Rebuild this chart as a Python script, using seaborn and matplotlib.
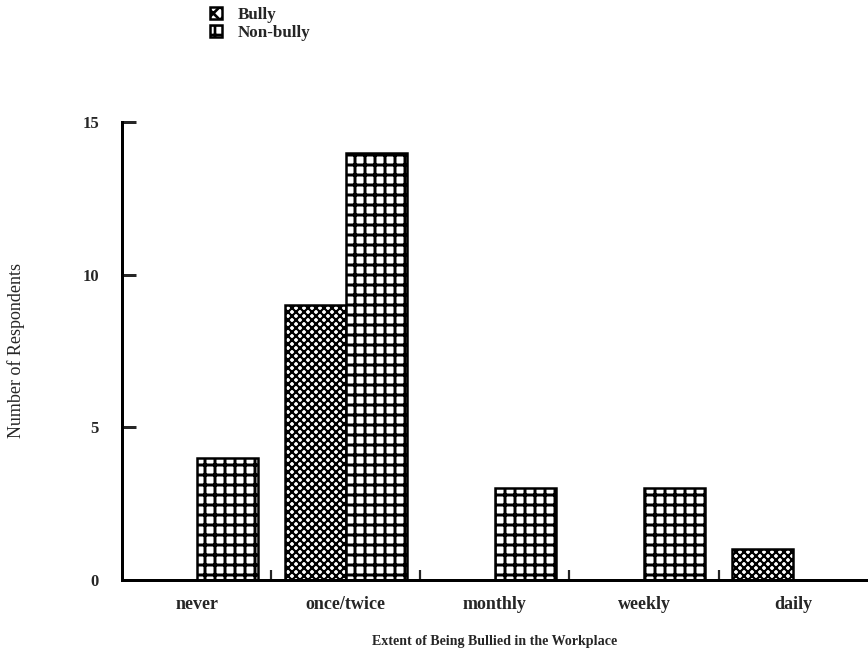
import pandas as pd
import matplotlib
matplotlib.use('Agg')
import matplotlib.pyplot as plt
import seaborn as sns
from matplotlib.patches import Patch

# data
categories = ['never', 'once/twice', 'monthly', 'weekly', 'daily']
bully = [0, 9, 0, 0, 1]
non_bully = [4, 14, 3, 3, 0]
groups = ['Bully', 'Non-bully']
hatches = ['xxxxx', '++']
hatch_widths = [1.3, 1.8]

df = pd.DataFrame({
    'extent': categories * 2,
    'group': [groups[0]] * len(categories) + [groups[1]] * len(categories),
    'count': bully + non_bully,
})

DPI = 120
def px(p):
    # pixels -> points at this dpi
    return p * 72 / DPI

sns.set_style('white')
plt.rcParams['font.family'] = ['Liberation Serif', 'DejaVu Serif']
plt.rcParams['hatch.linewidth'] = 1.6
plt.rcParams['hatch.color'] = 'black'

fig = plt.figure(figsize=(868 / DPI, 662 / DPI), dpi=DPI)
ax = fig.add_axes([0.1406, 0.1239, 0.859, 0.6918])

sns.barplot(data=df, x='extent', y='count', hue='group', order=categories,
            hue_order=groups, palette=['white', 'white'], edgecolor='black',
            linewidth=px(2.5), width=0.82, ax=ax, legend=False)

for cont, h, hw in zip(ax.containers, hatches, hatch_widths):
    for bar in cont:
        bar.set_hatch(h)
        if hasattr(bar, 'set_hatch_linewidth'):
            bar.set_hatch_linewidth(hw)
        if bar.get_height() == 0:
            bar.set_visible(False)

ax.set_xlim(-0.5, 4.5)
ax.set_ylim(0, 15)
ax.set_yticks([0, 5, 10, 15])
ax.set_yticklabels(['0', '5', '10', '15'], fontweight='bold', fontsize=px(16.5))
ax.set_xticks(range(len(categories)))
ax.set_xticklabels(categories, fontweight='bold', fontsize=px(18))
ax.set_xticks([0.5, 1.5, 2.5, 3.5], minor=True)
ax.tick_params(axis='x', which='major', length=0, pad=px(16))
ax.tick_params(axis='x', which='minor', direction='in', length=px(10),
               width=px(2.2), bottom=True)
ax.tick_params(axis='y', direction='in', length=px(14), width=px(3),
               pad=px(23), left=True)

for s in ['top', 'right']:
    ax.spines[s].set_visible(False)
for s in ['left', 'bottom']:
    ax.spines[s].set_linewidth(px(3))
    ax.spines[s].set_color('black')

ax.set_xlabel('Extent of Being Bullied in the Workplace', fontweight='bold',
              fontsize=px(14), labelpad=px(22))
ax.set_ylabel('Number of Respondents', fontsize=px(18), labelpad=px(57))

# legend squares drawn with the bar hatches
handles = [Patch(facecolor='white', edgecolor='black', hatch=h, linewidth=px(2.5))
           for h in ['xxx', '++']]
fig.legend(handles, groups, loc='upper left', bbox_to_anchor=(0.242, 0.99),
           frameon=False, prop={'weight': 'bold', 'size': px(17)},
           handlelength=0.7, handleheight=0.7, handletextpad=0.9,
           labelspacing=0.15, borderaxespad=0, borderpad=0)

plt.savefig('out.png', dpi=DPI)
plt.close()
